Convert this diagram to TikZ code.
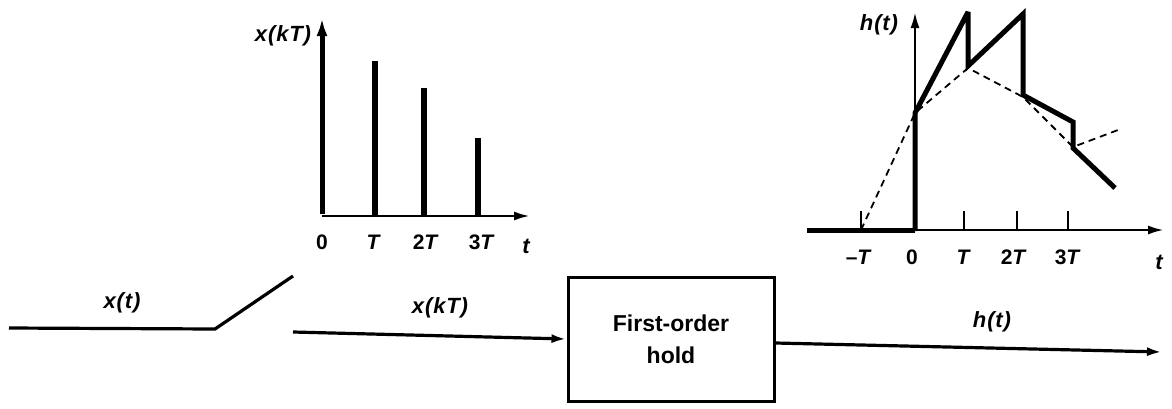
\documentclass[tikz,border=0pt]{standalone}
\usepackage{fontspec}
\setmainfont{Liberation Sans}
\newfontfamily\spacedsans[LetterSpace=4]{Liberation Sans}
\usetikzlibrary{arrows.meta}
\begin{document}
\begin{tikzpicture}[x=1pt,y=-1pt,
  sig/.style={line width=3.2pt},
  tip/.style={-{Latex[length=15pt,width=9pt]}},
  axis/.style={line width=2.5pt,-{Latex[length=16pt,width=9pt]}},
  bar/.style={line width=5.5pt},
  pulse/.style={line width=5pt,line join=miter,miter limit=3},
  trend/.style={line width=1.8pt,dash pattern=on 7pt off 5pt},
  tickmark/.style={line width=2pt},
  lab/.style={font=\fontsize{22}{26}\spacedsans\bfseries\itshape},
  num/.style={font=\fontsize{21}{25}\spacedsans\bfseries},
  blockbox/.style={draw,line width=3pt,minimum width=206pt,minimum height=124pt,
    align=center,font=\fontsize{23}{32}\selectfont\bfseries}]
\useasboundingbox (0,0) rectangle (1172,408);

% ---------------- block diagram ----------------
\node[blockbox] (hold) at (671,339) {First-order\\hold};

\coordinate (swin)   at (9,328);
\coordinate (swpiv)  at (215,329);
\coordinate (swtip)  at (293,276);
\coordinate (samp)   at (293,332);
\coordinate (hout)   at (1162,352);

\draw[sig] (swin) -- (swpiv) -- (swtip);
\draw[sig,tip] (samp) -- (hold.west);
\draw[sig,tip] ([yshift=-4pt]hold.east) -- (hout);

\node[lab] (lxt)  at (122,303) {x(t)};
\node[lab] (lxkt) at (440,308) {x(kT)};
\node[lab] (lht)  at (992,322) {h(t)};

% ---------------- sampled signal x(kT) ----------------
\coordinate (lo) at (322,216);
\coordinate (ly) at (322,18);
\coordinate (lx) at (530,216);
\draw[line width=2.5pt,-{Latex[length=16pt,width=9pt]}] (lo) -- (lx);
\draw[line width=5pt,-{Latex[length=18pt,width=11pt]}] ([yshift=2pt]lo) -- (ly);
\draw[bar] (375,216) -- (375,61);
\draw[bar] (424,216) -- (424,88);
\draw[bar] (478,216) -- (478,138);

\node[lab] (lxk) at (283,36) {x(kT)};
\node[num] (l0)  at (322,242) {0};
\node[num] (l1)  at (373,242) {\itshape T};
\node[num] (l2)  at (425,242) {2\itshape T};
\node[num] (l3)  at (481,242) {3\itshape T};
\node[lab] (lt)  at (526,246) {t};

% ---------------- first-order hold output h(t) ----------------
\coordinate (ro)  at (915,230);
\coordinate (rl)  at (807,230);
\coordinate (rx)  at (1164,230);
\coordinate (ry)  at (915,12);
\draw[axis] (rl) -- (rx);
\draw[axis] (ro) -- (ry);
\draw[line width=5pt] (rl) -- (ro);

\foreach \xx in {861,964,1017,1068}
  \draw[tickmark] (\xx,230) -- (\xx,211);

\draw[trend] (861,230) -- (915,113) -- (968,68) -- (1023,97)
  -- (1073,147) -- (1118,130);
\draw[pulse] (915,231) -- (915,113) -- (968,12) -- (968,66) -- (1023,14)
  -- (1023,95) -- (1073,122) -- (1073,148) -- (1115,188);

\node[lab] (rh)  at (879,25) {h(t)};
\node[num] (rm1) at (858,257) {\textendash\itshape T};
\node[num] (r0)  at (912,257) {0};
\node[num] (r1)  at (963,257) {\itshape T};
\node[num] (r2)  at (1013,257) {2\itshape T};
\node[num] (r3)  at (1067,257) {3\itshape T};
\node[lab] (rt)  at (1159,262) {t};
\end{tikzpicture}
\end{document}
